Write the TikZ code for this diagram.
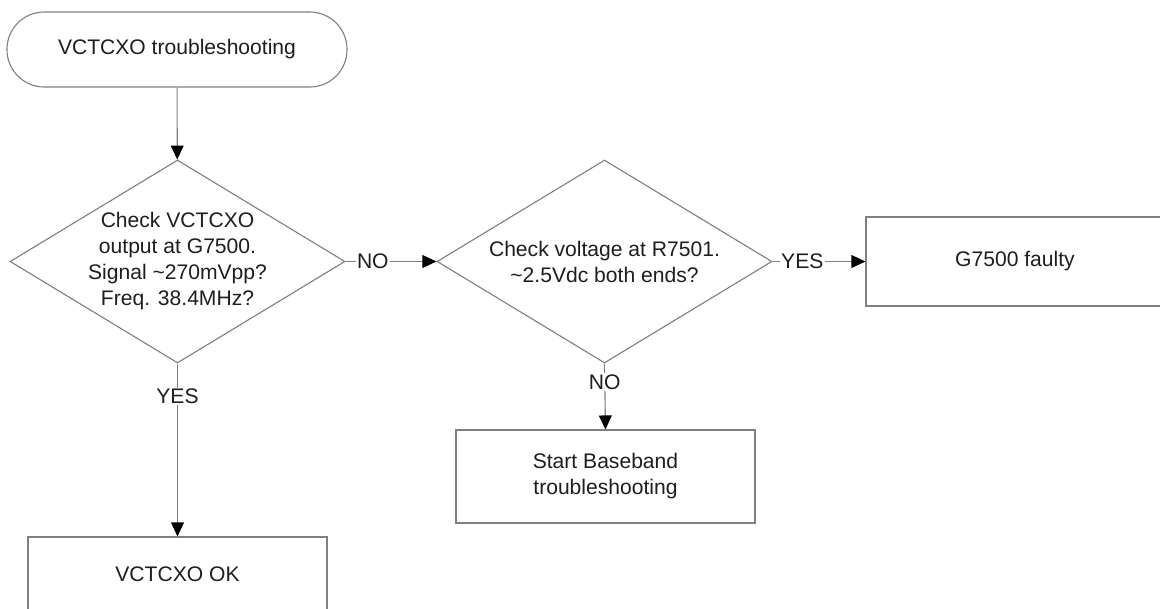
\documentclass[tikz,border=0pt]{standalone}
\usepackage{fontspec}
\setmainfont{Liberation Sans}
\usetikzlibrary{shapes.geometric, arrows.meta}

\definecolor{linegray}{RGB}{128,128,128}
\definecolor{textgray}{RGB}{30,30,30}

\begin{document}
\begin{tikzpicture}[
    every node/.style={font=\fontsize{15}{18.5}\selectfont, text=textgray, align=center},
    startbox/.style={draw=linegray, line width=0.8pt, rounded corners=0.93cm,
      minimum width=8.5cm, minimum height=1.875cm},
    decision/.style={draw=linegray, line width=0.8pt, diamond, aspect=1.65, inner sep=-2pt,
      minimum width=8.375cm, minimum height=5.075cm},
    actbox/.style={draw=linegray, line width=0.8pt, rectangle,
      minimum width=7.475cm, minimum height=2.3cm},
    flow/.style={draw=linegray, line width=0.8pt,
      -{Triangle[length=0.35cm, width=0.32cm, color=black, fill=black]}},
    answer/.style={fill=white, inner sep=1pt}
  ]
  \clip (0,0) rectangle (29,-15.2);

  % start
  \node[startbox] (start) at (4.425,-1.2375) {VCTCXO troubleshooting};

  % decisions
  \node[decision] (chkout) at (4.4375,-6.5375)
    {Check VCTCXO\\output at G7500.\\Signal \textasciitilde270mVpp?\\Freq. 38.4MHz?};
  \node[decision] (chkvolt) at (15.1125,-6.5375)
    {Check voltage at R7501.\\\textasciitilde2.5Vdc both ends?};

  % results
  \node[actbox, minimum width=7.45cm, minimum height=2.225cm] (faulty) at (25.375,-6.5375) {G7500 faulty};
  \node[actbox, minimum height=2.325cm] (baseband) at (15.1375,-11.9125) {Start Baseband\\troubleshooting};
  \node[actbox, minimum height=1.85cm] (vcok) at (4.4375,-14.35) {VCTCXO OK};

  % connections
  \draw[flow] (start) -- (chkout);
  \draw[flow] (chkout.east) -- node[answer, pos=0.3] {NO} (chkvolt.west);
  \draw[flow] (chkvolt.east) -- node[answer, pos=0.32] {YES} (faulty.west);
  \draw[flow] (chkvolt.south) -- node[answer, pos=0.28] {NO} (baseband.north);
  \draw[flow] (chkout.south) -- node[answer, pos=0.19] {YES} (vcok.north);
\end{tikzpicture}
\end{document}
